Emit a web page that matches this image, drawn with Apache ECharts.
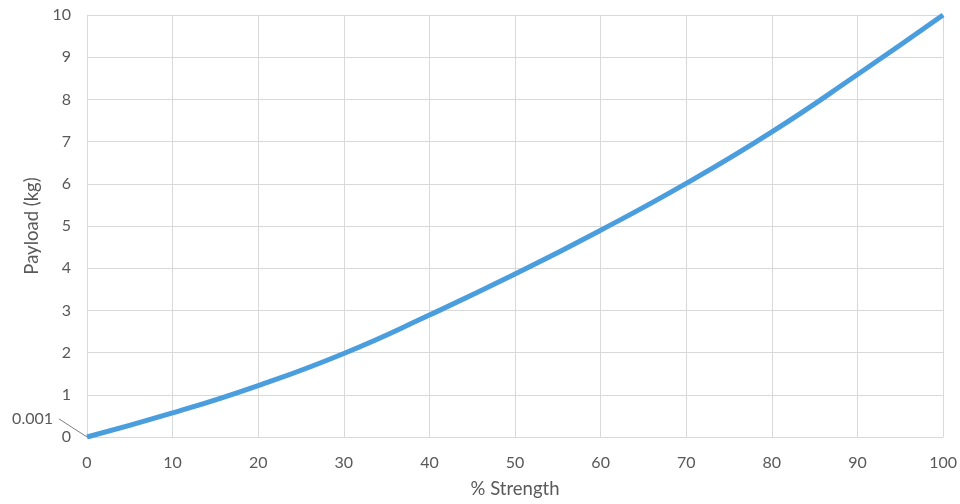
<!DOCTYPE html>
<html>
<head>
<meta charset="utf-8">
<script src="https://cdn.jsdelivr.net/npm/echarts@6/dist/echarts.min.js"></script>
<style>
html,body{margin:0;padding:0;background:#fff;}
#chart{width:960px;height:504px;}
</style>
</head>
<body>
<div id="chart"></div>
<script>
var strength = [0, 10, 20, 30, 40, 50, 60, 70, 80, 90, 100];
var payload = [0.001, 0.57, 1.22, 1.98, 2.89, 3.86, 4.9, 6.01, 7.23, 8.59, 10];
var annotationText = '0.001';

var chart = echarts.init(document.getElementById('chart'), null, {renderer: 'canvas'});
var font = 'Lato, "Open Sans", sans-serif';
var data = strength.map(function (s, i) { return [s, payload[i]]; });

chart.setOption({
  animation: false,
  grid: {left: 87, right: 15, top: 15, bottom: 67},
  xAxis: {
    type: 'value', min: 0, max: 100, interval: 10,
    name: '% Strength', nameLocation: 'middle', nameGap: 43,
    nameTextStyle: {color: '#595959', fontSize: 18.5, fontFamily: font},
    axisLine: {show: true, lineStyle: {color: '#d9d9d9', width: 1}},
    axisTick: {show: false},
    axisLabel: {color: '#595959', fontSize: 16, fontFamily: font, margin: 18},
    splitLine: {show: true, lineStyle: {color: '#d9d9d9', width: 1}}
  },
  yAxis: {
    type: 'value', min: 0, max: 10, interval: 1,
    name: 'Payload (kg)', nameLocation: 'middle', nameGap: 44,
    nameTextStyle: {color: '#595959', fontSize: 18.5, fontFamily: font},
    axisLine: {show: false},
    axisTick: {show: false},
    axisLabel: {color: '#595959', fontSize: 16, fontFamily: font, margin: 16},
    splitLine: {show: true, lineStyle: {color: '#d9d9d9', width: 1}}
  },
  series: [{
    type: 'line',
    data: data,
    smooth: true,
    showSymbol: false,
    symbol: 'none',
    lineStyle: {color: '#4a9ede', width: 5}
  }]
});

// data label for the first point, placed relative to the point's pixel position
var p = chart.convertToPixel({seriesIndex: 0}, [strength[0], payload[0]]);
chart.setOption({
  graphic: [
    {
      type: 'line', z: 1,
      shape: {x1: p[0] - 28, y1: p[1] - 18, x2: p[0], y2: p[1]},
      style: {stroke: '#7f7f7f', lineWidth: 1}
    },
    {
      type: 'text', z: 1,
      x: p[0] - 34, y: p[1] - 18,
      style: {text: annotationText, fill: '#595959', font: '16px ' + font,
        align: 'right', verticalAlign: 'middle'}
    }
  ]
});
</script>
</body>
</html>
